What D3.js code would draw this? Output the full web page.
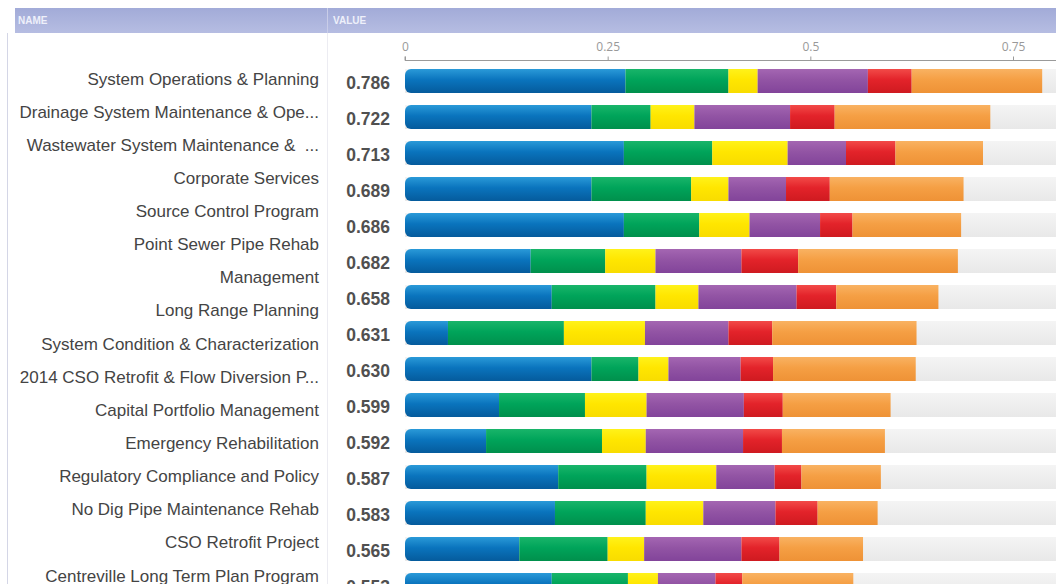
<!DOCTYPE html>
<html>
<head>
<meta charset="utf-8">
<script src="https://cdn.jsdelivr.net/npm/d3@7"></script>
<style>
  body { margin: 0; background: #fff; }
  svg { display: block; font-family: "Liberation Sans", Arial, sans-serif; }
  .name { white-space: pre; }
</style>
</head>
<body>
<svg id="chart" width="1056" height="584"></svg>
<script>
// Row labels (one wraps onto two lines in the name column)
const names = [
  "System Operations & Planning",
  "Drainage System Maintenance & Ope...",
  "Wastewater System Maintenance &  ...",
  "Corporate Services",
  "Source Control Program",
  "Point Sewer Pipe Rehab\nManagement",
  "Long Range Planning",
  "System Condition & Characterization",
  "2014 CSO Retrofit & Flow Diversion P...",
  "Capital Portfolio Management",
  "Emergency Rehabilitation",
  "Regulatory Compliance and Policy",
  "No Dig Pipe Maintenance Rehab",
  "CSO Retrofit Project",
  "Centreville Long Term Plan Program"
];

const totals = [0.786, 0.722, 0.713, 0.689, 0.686, 0.682, 0.658, 0.631, 0.630, 0.599, 0.592, 0.587, 0.583, 0.565, 0.553];

// Stacked segments, left to right
const blue   = [0.272, 0.230, 0.270, 0.230, 0.270, 0.155, 0.181, 0.053, 0.230, 0.116, 0.100, 0.189, 0.185, 0.141, 0.181];
const green  = [0.127, 0.073, 0.109, 0.123, 0.093, 0.092, 0.128, 0.143, 0.058, 0.106, 0.143, 0.109, 0.112, 0.109, 0.094];
const yellow = [0.036, 0.054, 0.093, 0.046, 0.062, 0.062, 0.053, 0.100, 0.037, 0.076, 0.054, 0.086, 0.071, 0.045, 0.037];
const purple = [0.136, 0.118, 0.072, 0.071, 0.087, 0.106, 0.121, 0.103, 0.089, 0.120, 0.120, 0.072, 0.089, 0.120, 0.071];
const red    = [0.054, 0.055, 0.061, 0.054, 0.040, 0.070, 0.049, 0.054, 0.040, 0.048, 0.048, 0.033, 0.052, 0.047, 0.033];
const orange = [0.161, 0.192, 0.108, 0.165, 0.134, 0.197, 0.126, 0.178, 0.176, 0.133, 0.127, 0.098, 0.074, 0.103, 0.137];

const seriesKeys = ["blue", "green", "yellow", "purple", "red", "orange"];
const tickValues = [0, 0.25, 0.5, 0.75];

// top / middle / bottom gradient stops for each segment colour
const segColors = {
  blue:   ["#2a9ad8", "#0a74bd", "#055b9c"],
  green:  ["#19b56a", "#00a45a", "#00904c"],
  yellow: ["#fff21a", "#ffe600", "#f8dc00"],
  purple: ["#a466b2", "#9254a4", "#82449a"],
  red:    ["#f24a48", "#e3232a", "#cf1a20"],
  orange: ["#f9b262", "#f59f44", "#ee9236"]
};

const width = 1056, height = 584;
const svg = d3.select("#chart");
const defs = svg.append("defs");

Object.entries(segColors).forEach(([k, c]) => {
  const g = defs.append("linearGradient").attr("id", "grad-" + k)
    .attr("x1", 0).attr("y1", 0).attr("x2", 0).attr("y2", 1);
  g.append("stop").attr("offset", "0%").attr("stop-color", c[0]);
  g.append("stop").attr("offset", "45%").attr("stop-color", c[1]);
  g.append("stop").attr("offset", "100%").attr("stop-color", c[2]);
});
const tg = defs.append("linearGradient").attr("id", "grad-track")
  .attr("x1", 0).attr("y1", 0).attr("x2", 0).attr("y2", 1);
tg.append("stop").attr("offset", "0%").attr("stop-color", "#f4f4f4");
tg.append("stop").attr("offset", "100%").attr("stop-color", "#e8e8e8");
const hg = defs.append("linearGradient").attr("id", "grad-head")
  .attr("x1", 0).attr("y1", 0).attr("x2", 0).attr("y2", 1);
hg.append("stop").attr("offset", "0%").attr("stop-color", "#a2abd8");
hg.append("stop").attr("offset", "100%").attr("stop-color", "#b6bde2");

// header strip
svg.append("rect").attr("x", 15).attr("y", 8).attr("width", width - 15).attr("height", 25)
  .attr("fill", "url(#grad-head)");
svg.append("line").attr("x1", 327.5).attr("x2", 327.5).attr("y1", 8).attr("y2", 33)
  .attr("stroke", "#c9cde8");
svg.append("text").attr("x", 18).attr("y", 24).text("NAME")
  .attr("font-size", 10).attr("font-weight", "bold").attr("fill", "#eef0fa");
svg.append("text").attr("x", 333).attr("y", 24).text("VALUE")
  .attr("font-size", 10).attr("font-weight", "bold").attr("fill", "#eef0fa");

// column borders
svg.append("line").attr("x1", 7.5).attr("x2", 7.5).attr("y1", 33).attr("y2", height)
  .attr("stroke", "#d4d6e6");
svg.append("line").attr("x1", 327.5).attr("x2", 327.5).attr("y1", 33).attr("y2", height)
  .attr("stroke", "#ececf2");

// scales
const x = d3.scaleLinear().domain([0, 0.75]).range([405, 1013]);
const y = d3.scalePoint().domain(d3.range(names.length)).range([81, 585]);
const barH = 24;

// axis
const axisG = svg.append("g").attr("transform", "translate(0,60.5)")
  .call(d3.axisTop(x).tickValues(tickValues).tickFormat(d3.format("")).tickSize(4).tickPadding(6));
axisG.select(".domain").attr("d", `M${x(0)},-4V0H${width}`).attr("stroke", "#9a9a9a");
axisG.selectAll(".tick line").attr("stroke", "#9a9a9a");
axisG.selectAll(".tick text").attr("fill", "#999").attr("font-size", 12)
  .attr("font-family", "'Open Sans', sans-serif");

// data table for the stack
const rows = names.map((n, i) => ({
  name: n, total: totals[i],
  blue: blue[i], green: green[i], yellow: yellow[i],
  purple: purple[i], red: red[i], orange: orange[i]
}));
const stacked = d3.stack().keys(seriesKeys)(rows);

// grey tracks
svg.append("g").selectAll("rect").data(rows).join("rect")
  .attr("x", x(0)).attr("y", (d, i) => y(i) - barH / 2)
  .attr("width", width - x(0)).attr("height", barH)
  .attr("fill", "url(#grad-track)");

// rounded clip per row (left corners only)
rows.forEach((d, i) => {
  defs.append("clipPath").attr("id", "clip-" + i).append("rect")
    .attr("x", x(0)).attr("y", y(i) - barH / 2)
    .attr("width", x(d.total) - x(0) + 12).attr("height", barH).attr("rx", 6);
});

svg.append("g").selectAll("g").data(stacked).join("g")
    .attr("fill", s => "url(#grad-" + s.key + ")")
  .selectAll("rect").data(s => s).join("rect")
    .attr("clip-path", (d, i) => `url(#clip-${i})`)
    .attr("x", d => x(d[0]))
    .attr("y", (d, i) => y(i) - barH / 2)
    .attr("width", d => x(d[1]) - x(d[0]))
    .attr("height", barH);

// value column
svg.append("g").selectAll("text").data(totals).join("text")
  .attr("x", 390).attr("y", (d, i) => y(i) + 2)
  .attr("text-anchor", "end").attr("dominant-baseline", "central")
  .attr("font-size", 17.5).attr("font-weight", "bold").attr("fill", "#505050")
  .text(d => d3.format(".3f")(d));

// name column (lines flow on their own spacing)
const nameLines = names.flatMap(n => n.split("\n"));
const yName = d3.scalePoint().domain(d3.range(nameLines.length)).range([79, 576]);
svg.append("g").selectAll("text").data(nameLines).join("text")
  .attr("class", "name")
  .attr("x", 319).attr("y", (d, i) => yName(i))
  .attr("text-anchor", "end").attr("dominant-baseline", "central")
  .attr("font-size", 17).attr("fill", "#444")
  .text(d => d);
</script>
</body>
</html>
